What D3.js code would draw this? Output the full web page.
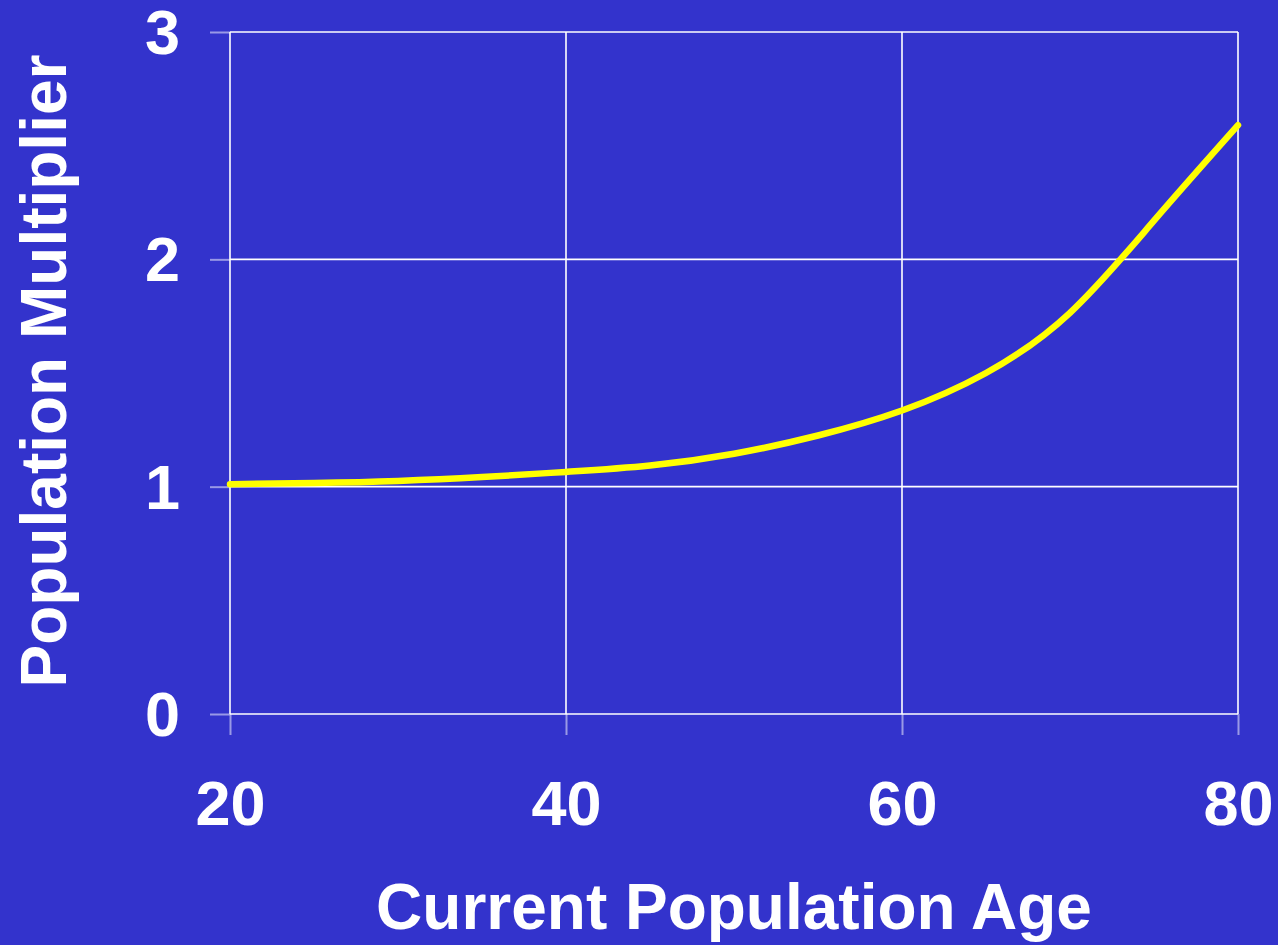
<!DOCTYPE html>
<html>
<head>
<meta charset="utf-8">
<script src="https://cdn.jsdelivr.net/npm/d3@7/dist/d3.min.js"></script>
<style>
  html, body { margin: 0; padding: 0; background: #3333CC; }
  svg { display: block; }
  text { font-family: "Liberation Sans", Arial, sans-serif; font-weight: bold; fill: #ffffff; }
</style>
</head>
<body>
<svg id="chart" width="1278" height="945"></svg>
<script>
// Population multiplier by current population age
const ages = [20, 25, 30, 35, 40, 45, 50, 55, 60, 65, 70, 75, 80];
const multipliers = [1.011, 1.016, 1.025, 1.042, 1.065, 1.093, 1.145, 1.225, 1.335, 1.50, 1.765, 2.17, 2.59];

const xTicks = [20, 40, 60, 80];
const yTicks = [0, 1, 2, 3];

const xTitle = "Current Population Age";
const yTitle = "Population Multiplier";

(function draw() {
  const svg = d3.select("#chart");
  const W = 1278, H = 945;
  const plotLeft = 230, plotRight = 1238, plotTop = 32, plotBottom = 714;

  svg.append("rect").attr("width", W).attr("height", H).attr("fill", "#3333CC");

  const x = d3.scaleLinear().domain([20, 80]).range([plotLeft, plotRight]);
  const y = d3.scaleLinear().domain([0, 3]).range([plotBottom, plotTop]);

  // Grid lines
  const grid = svg.append("g");
  grid.selectAll("line.v").data(xTicks).join("line").attr("class", "v")
    .attr("x1", d => x(d)).attr("x2", d => x(d))
    .attr("y1", plotTop).attr("y2", plotBottom)
    .attr("stroke", "#ffffff").attr("stroke-width", 1.6);
  grid.selectAll("line.h").data(yTicks).join("line").attr("class", "h")
    .attr("x1", plotLeft).attr("x2", plotRight)
    .attr("y1", d => y(d)).attr("y2", d => y(d))
    .attr("stroke", "#ffffff").attr("stroke-width", 1.6);

  // Axes with outside tick marks
  const yAxis = d3.axisLeft(y).tickValues(yTicks).tickSize(20).tickPadding(30).tickFormat(d3.format("d"));
  const gy = svg.append("g").attr("transform", `translate(${plotLeft},0)`).call(yAxis);
  gy.select(".domain").remove();
  gy.selectAll(".tick line").attr("stroke", "#ffffff").attr("stroke-opacity", 0.5).attr("stroke-width", 2);
  gy.selectAll(".tick text").attr("font-size", 63).attr("fill", "#ffffff")
    .attr("font-family", "Liberation Sans, Arial, sans-serif").attr("font-weight", "bold")
    .attr("dy", "0.34em");

  const xAxis = d3.axisBottom(x).tickValues(xTicks).tickSize(21).tickPadding(45).tickFormat(d3.format("d"));
  const gx = svg.append("g").attr("transform", `translate(0,${plotBottom})`).call(xAxis);
  gx.select(".domain").remove();
  gx.selectAll(".tick line").attr("stroke", "#ffffff").attr("stroke-opacity", 0.5).attr("stroke-width", 2);
  gx.selectAll(".tick text").attr("font-size", 63).attr("fill", "#ffffff")
    .attr("font-family", "Liberation Sans, Arial, sans-serif").attr("font-weight", "bold");

  // Smoothed curve
  const line = d3.line()
    .x((d, i) => x(ages[i]))
    .y(d => y(d))
    .curve(d3.curveNatural);
  svg.append("path")
    .attr("d", line(multipliers))
    .attr("fill", "none")
    .attr("stroke", "#FFFF00")
    .attr("stroke-width", 6.5)
    .attr("stroke-linecap", "round")
    .attr("stroke-linejoin", "round");

  // Axis titles
  svg.append("text")
    .attr("x", 734).attr("y", 929)
    .attr("text-anchor", "middle")
    .attr("font-size", 64)
    .text(xTitle);

  svg.append("text")
    .attr("transform", "translate(66,371) rotate(-90)")
    .attr("text-anchor", "middle")
    .attr("font-size", 64)
    .text(yTitle);
})();
</script>
</body>
</html>
